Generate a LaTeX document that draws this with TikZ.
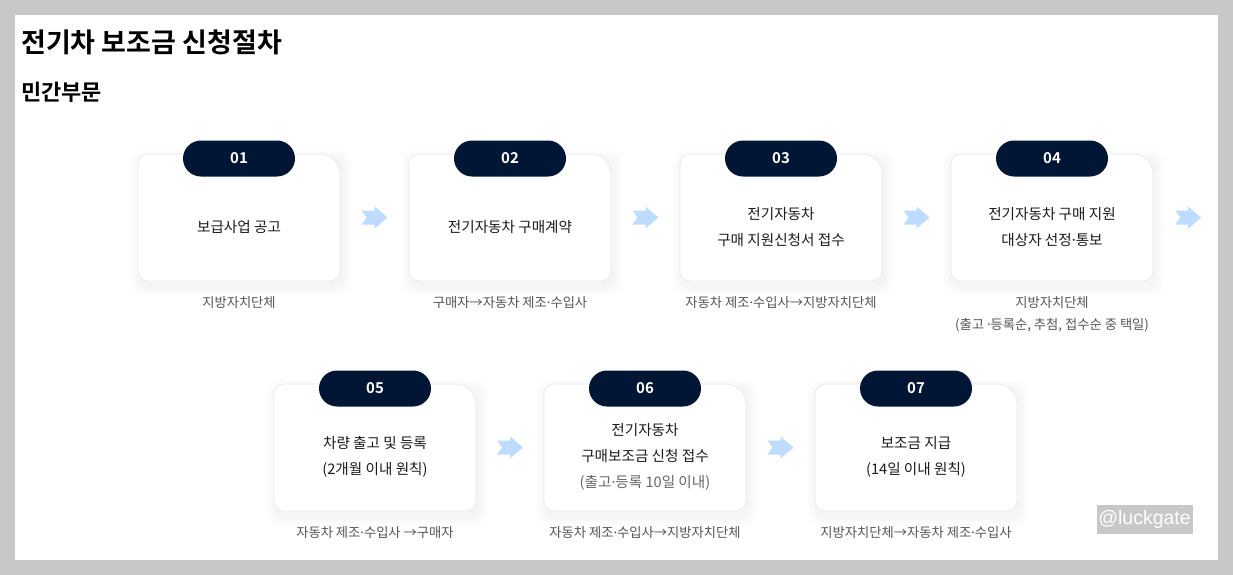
\documentclass[tikz,border=0pt]{standalone}
\usepackage{fontspec}
\setmainfont{Noto Sans CJK KR}[BoldFont={Noto Sans CJK KR Bold}]
\newfontfamily\wmfont{Liberation Sans}
\newfontfamily\latinfont{Noto Sans}
\newcommand\md{{\latinfont ·}}
\usetikzlibrary{calc}
\definecolor{frame}{HTML}{C8C8C8}
\definecolor{navy}{HTML}{011635}
\definecolor{arrowc}{HTML}{BDDCFF}
\definecolor{txt}{HTML}{1A1A1A}
\definecolor{lblc}{HTML}{555555}
\definecolor{subc}{HTML}{666666}
\definecolor{cardedge}{HTML}{EBEBEB}
\tikzset{
  cardbox/.style={draw=none,inner sep=0,minimum width=202,minimum height=127},
  cardline/.style={draw=cardedge,line width=0.8pt,fill=white},
  cardtext/.style={inner sep=0,align=center,text=txt,font=\fontsize{14.6}{26}\selectfont},
  pill/.style={fill=navy,text=white,rounded corners=18pt,minimum width=112,minimum height=36,inner sep=0,font=\bfseries\fontsize{15}{18}\selectfont},
  lbl/.style={inner sep=0,align=center,text=lblc,font=\fontsize{13.3}{22}\selectfont},
  flowarrow/.style={fill=arrowc,draw=none}
}
% #1 name, #2 center x, #3 top y, #4 number, #5 text, #6 label
\newcommand\mkcard[6]{%
  \pgfmathsetmacro\xa{#2-101}\pgfmathsetmacro\xb{#2+101}%
  \pgfmathsetmacro\ya{#3}\pgfmathsetmacro\yb{#3+127}%
  \foreach \s in {1,...,10} {%
    \fill[black,opacity=0.0045,rounded corners=12] (\xa-\s+2,\ya-\s+5) rectangle (\xb+\s+2,\yb+\s+5);
  }
  \node[cardbox] (#1) at (#2,#3+63.5) {};
  \draw[cardline] (\xa+10,\ya) -- (\xb-20,\ya) .. controls (\xb-9,\ya) and (\xb,\ya+9) .. (\xb,\ya+20)
     -- (\xb,\yb-10) .. controls (\xb,\yb-4.5) and (\xb-4.5,\yb) .. (\xb-10,\yb)
     -- (\xa+10,\yb) .. controls (\xa+4.5,\yb) and (\xa,\yb-4.5) .. (\xa,\yb-10)
     -- (\xa,\ya+10) .. controls (\xa,\ya+4.5) and (\xa+4.5,\ya) .. (\xa+10,\ya) -- cycle;
  \node[cardtext] (#1t) at (#2,#3+73) {#5};
  \node[pill] (#1n) at (#2,#3+4.5) {#4};
  \node[lbl,anchor=north] (#1l) at (#2,#3+127+15.5) {#6};
}
% arrow centered at coordinate #1
\newcommand\flowarrow[1]{%
  \fill[flowarrow] ($(#1)+(-13,-7)$) -- ($(#1)+(0,-7)$) -- ($(#1)+(0,-11)$) -- ($(#1)+(13,0)$)
    -- ($(#1)+(0,11)$) -- ($(#1)+(0,7)$) -- ($(#1)+(-13,7)$) -- ($(#1)+(-8,0)$) -- cycle;
}
\begin{document}
\begin{tikzpicture}[x=1pt,y=-1pt]
\useasboundingbox (0,0) rectangle (1233,575);
\fill[frame] (0,0) rectangle (1233,575);
\fill[white] (15,15) rectangle (1218,560);
\node[anchor=west,inner sep=0,font=\bfseries\fontsize{27}{30}\selectfont] (title) at (21,42) {전기차 보조금 신청절차};
\node[anchor=west,inner sep=0,font=\bfseries\fontsize{22}{24}\selectfont] (sub) at (21,92) {민간부문};

\mkcard{c1}{239}{154}{01}{보급사업 공고}{지방자치단체}
\mkcard{c2}{510}{154}{02}{전기자동차 구매계약}{구매자→자동차 제조\md 수입사}
\mkcard{c3}{781}{154}{03}{전기자동차\\구매 지원신청서 접수}{자동차 제조\md 수입사→지방자치단체}
\mkcard{c4}{1052}{154}{04}{전기자동차 구매 지원\\대상자 선정\md 통보}{지방자치단체\\(출고 \md 등록순, 추첨, 접수순 중 택일)}
\mkcard{c5}{375}{384}{05}{차량 출고 및 등록\\(2개월 이내 원칙)}{자동차 제조\md 수입사 →구매자}
\mkcard{c6}{645}{384}{06}{전기자동차\\구매보조금 신청 접수\\{\color{subc}(출고\md 등록 10일 이내)}}{자동차 제조\md 수입사→지방자치단체}
\mkcard{c7}{916}{384}{07}{보조금 지급\\(14일 이내 원칙)}{지방자치단체→자동차 제조\md 수입사}

\coordinate (a1) at ($(c1.east)!0.5!(c2.west)$);
\coordinate (a2) at ($(c2.east)!0.5!(c3.west)$);
\coordinate (a3) at ($(c3.east)!0.5!(c4.west)$);
\coordinate (a4) at ($(c4.east)+(35,0)$);
\coordinate (a5) at ($(c5.east)!0.5!(c6.west)$);
\coordinate (a6) at ($(c6.east)!0.5!(c7.west)$);
\flowarrow{a1}\flowarrow{a2}\flowarrow{a3}\flowarrow{a4}\flowarrow{a5}\flowarrow{a6}

\node[fill=frame,text=white,inner sep=0,minimum width=96,minimum height=29,font=\wmfont\fontsize{19.5}{22}\selectfont] (wm) at (1144.5,519.5) {@luckgate};
\end{tikzpicture}
\end{document}
